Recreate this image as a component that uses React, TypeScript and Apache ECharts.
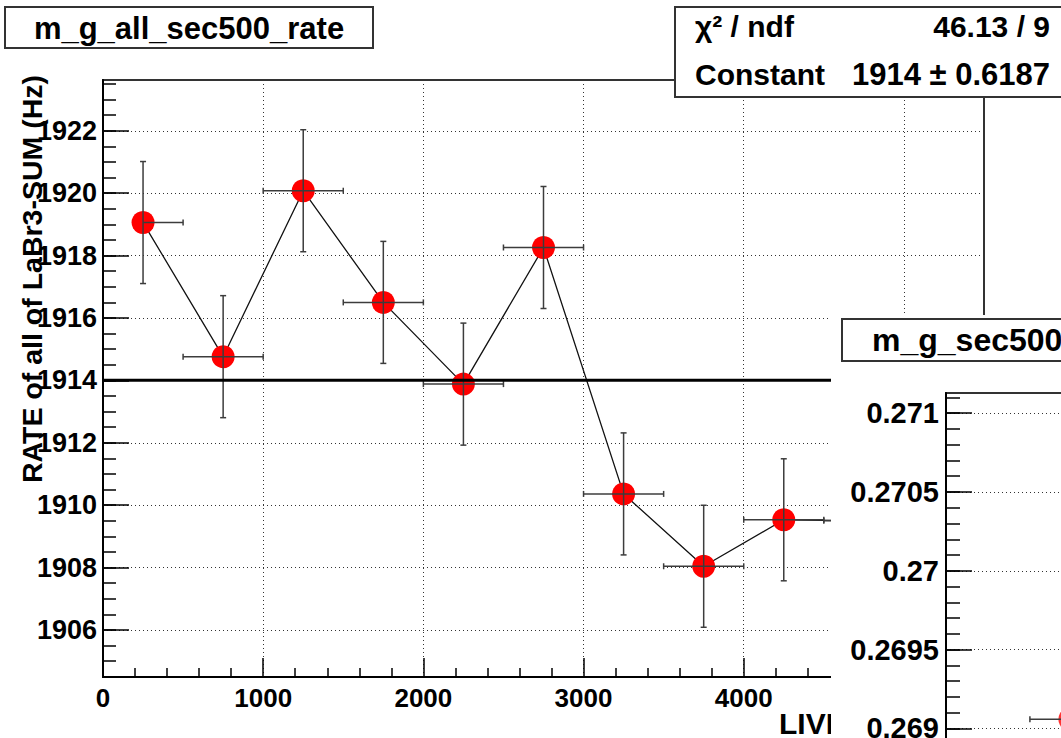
import React, { useEffect, useRef } from "react";
import * as echarts from "echarts";

const FONT = '"Liberation Sans", Arial, Helvetica, sans-serif';

// ---------- main pad data ----------
const TITLE = "m_g_all_sec500_rate";
const Y_TITLE = "RATE of all of LaBr3-SUM (Hz)";
const X_TITLE = "LIVE";
const LIVE_TIME = [250, 750, 1250, 1750, 2250, 2750, 3250, 3750, 4250, 4750];
const RATE = [1919.06, 1914.76, 1920.08, 1916.5, 1913.88, 1918.26, 1910.36, 1908.04, 1909.53, 1909.5];
const X_ERR = [250, 250, 250, 250, 250, 250, 250, 250, 250, 250];
const Y_ERR = [1.956, 1.956, 1.956, 1.956, 1.956, 1.956, 1.956, 1.956, 1.956, 1.956];
const FIT_CONSTANT = 1914;
const FIT_RANGE = [0, 5500];
const X_RANGE = [0, 5500];
const X_MAJOR_STEP = 1000;
const Y_RANGE = [1904.49, 1923.63];
const Y_MAJOR_TICKS = [1906, 1908, 1910, 1912, 1914, 1916, 1918, 1920, 1922];
const Y_MINOR_STEP = 0.5;

// ---------- stats box ----------
const STATS_LABELS = ["\u03c7\u00b2 / ndf", "Constant"];
const STATS_VALUES = ["46.13 / 9", "1914 \u00b1 0.6187"];

// ---------- second pad (partly visible) ----------
const PAD2_TITLE = "m_g_sec500";
const PAD2_X = [775];
const PAD2_Y = [0.269059];
const PAD2_X_ERR = [250];
const PAD2_Y_ERR = [0.00012];
const PAD2_X_RANGE = [0, 5500];
const PAD2_Y_RANGE = [0.2688, 0.271128];
const PAD2_Y_MAJOR_TICKS = [0.269, 0.2695, 0.27, 0.2705, 0.271];
const PAD2_Y_MINOR_STEP = 0.0001;

function ticksBetween(lo: number, hi: number, step: number): number[] {
  const out: number[] = [];
  const start = Math.ceil(lo / step - 1e-9);
  const end = Math.floor(hi / step + 1e-9);
  for (let i = start; i <= end; i++) out.push(Number((i * step).toFixed(6)));
  return out;
}

const MAIN_Y_MINOR = ticksBetween(Y_RANGE[0], Y_RANGE[1], Y_MINOR_STEP);
const PAD2_Y_MINOR = ticksBetween(PAD2_Y_RANGE[0], PAD2_Y_RANGE[1], PAD2_Y_MINOR_STEP);

function makeErrorRenderer(xMin: number) {
  return (_params: any, api: any) => {
    const x = api.value(0);
    const y = api.value(1);
    const ex = api.value(2);
    const ey = api.value(3);
    const c = api.coord([x, y]);
    const l = api.coord([x - ex, y]);
    const r = api.coord([x + ex, y]);
    const t = api.coord([x, y + ey]);
    const b = api.coord([x, y - ey]);
    const style = { stroke: "#3c3c3c", lineWidth: 1.5 };
    const cap = 3;
    const children: any[] = [
      { type: "line", shape: { x1: c[0], y1: t[1], x2: c[0], y2: b[1] }, style },
      { type: "line", shape: { x1: c[0] - cap, y1: t[1], x2: c[0] + cap, y2: t[1] }, style },
      { type: "line", shape: { x1: c[0] - cap, y1: b[1], x2: c[0] + cap, y2: b[1] }, style },
      { type: "line", shape: { x1: c[0], y1: c[1], x2: r[0], y2: c[1] }, style },
      { type: "line", shape: { x1: r[0], y1: c[1] - cap, x2: r[0], y2: c[1] + cap }, style },
    ];
    if (x - ex > xMin) {
      children.push({ type: "line", shape: { x1: l[0], y1: c[1], x2: c[0], y2: c[1] }, style });
      children.push({ type: "line", shape: { x1: l[0], y1: c[1] - cap, x2: l[0], y2: c[1] + cap }, style });
    }
    return { type: "group", children };
  };
}

const dotted = { type: [1, 3] as any, color: "#333", width: 1 };
const tickLine = { color: "#000", width: 1.5 };

export default function App() {
  const ref = useRef<HTMLDivElement>(null);

  useEffect(() => {
    if (!ref.current) return;
    const chart = echarts.init(ref.current, null, { renderer: "svg" });

    const mainPoints = LIVE_TIME.map((x, i) => [x, RATE[i]]);
    const mainErr = LIVE_TIME.map((x, i) => [x, RATE[i], X_ERR[i], Y_ERR[i]]);
    const pad2Points = PAD2_X.map((x, i) => [x, PAD2_Y[i]]);
    const pad2Err = PAD2_X.map((x, i) => [x, PAD2_Y[i], PAD2_X_ERR[i], PAD2_Y_ERR[i]]);

    const option: any = {
      animation: false,
      backgroundColor: "#ffffff",
      grid: [
        {
          left: 103, top: 80, width: 881, height: 597,
          show: true, borderColor: "#333", borderWidth: 2, backgroundColor: "transparent",
          containLabel: false, outerBoundsMode: "none", z: 0,
        },
        {
          left: 946, top: 393, width: 879, height: 367,
          show: true, borderColor: "#333", borderWidth: 2, backgroundColor: "#ffffff",
          containLabel: false, outerBoundsMode: "none", z: 60,
        },
      ],
      xAxis: [
        {
          type: "value", gridIndex: 0, min: X_RANGE[0], max: X_RANGE[1], interval: X_MAJOR_STEP,
          axisLine: { show: true, onZero: false, lineStyle: { color: "#000", width: 2 } },
          axisTick: { show: true, inside: true, length: 19, lineStyle: tickLine },
          minorTick: { show: true, splitNumber: 5, length: 9, lineStyle: tickLine },
          axisLabel: {
            show: true, margin: 8, fontSize: 26, fontWeight: "bold", color: "#000", fontFamily: FONT,
            formatter: (v: number) => String(v),
          },
          splitLine: { show: true, lineStyle: dotted },
          minorSplitLine: { show: false },
          z: 1,
        },
        {
          type: "value", gridIndex: 1, min: PAD2_X_RANGE[0], max: PAD2_X_RANGE[1], show: false,
          splitLine: { show: false }, z: 60,
        },
      ],
      yAxis: [
        {
          type: "value", gridIndex: 0, min: Y_RANGE[0], max: Y_RANGE[1], position: "left",
          axisLine: { show: true, onZero: false, lineStyle: { color: "#000", width: 2 } },
          axisTick: { show: true, inside: true, length: 26, customValues: Y_MAJOR_TICKS, lineStyle: tickLine },
          axisLabel: {
            show: true, customValues: Y_MAJOR_TICKS, margin: 6, fontSize: 27, fontWeight: "bold",
            color: "#000", fontFamily: FONT, formatter: (v: number) => String(v),
          },
          splitLine: { show: true, lineStyle: dotted },
          z: 1,
        },
        {
          type: "value", gridIndex: 0, min: Y_RANGE[0], max: Y_RANGE[1], position: "left",
          axisLine: { show: false },
          axisTick: { show: true, inside: true, length: 13, customValues: MAIN_Y_MINOR, lineStyle: tickLine },
          axisLabel: { show: false, customValues: MAIN_Y_MINOR },
          splitLine: { show: false },
          z: 1,
        },
        {
          type: "value", gridIndex: 1, min: PAD2_Y_RANGE[0], max: PAD2_Y_RANGE[1], position: "left",
          axisLine: { show: true, onZero: false, lineStyle: { color: "#000", width: 2 } },
          axisTick: { show: true, inside: true, length: 26, customValues: PAD2_Y_MAJOR_TICKS, lineStyle: tickLine },
          axisLabel: {
            show: true, customValues: PAD2_Y_MAJOR_TICKS, margin: 7, fontSize: 29, fontWeight: "bold",
            color: "#000", fontFamily: FONT, formatter: (v: number) => String(v),
          },
          splitLine: { show: true, lineStyle: dotted },
          z: 60,
        },
        {
          type: "value", gridIndex: 1, min: PAD2_Y_RANGE[0], max: PAD2_Y_RANGE[1], position: "left",
          axisLine: { show: false },
          axisTick: { show: true, inside: true, length: 14, customValues: PAD2_Y_MINOR, lineStyle: tickLine },
          axisLabel: { show: false, customValues: PAD2_Y_MINOR },
          splitLine: { show: false },
          z: 60,
        },
      ],
      series: [
        {
          type: "line", xAxisIndex: 0, yAxisIndex: 0, data: mainPoints,
          symbol: "circle", symbolSize: 23, showSymbol: true,
          itemStyle: { color: "#ff0000", borderWidth: 0 },
          lineStyle: { color: "#111", width: 1.3 },
          z: 3, silent: true,
        },
        {
          type: "custom", xAxisIndex: 0, yAxisIndex: 0, data: mainErr,
          renderItem: makeErrorRenderer(X_RANGE[0]),
          encode: { x: 0, y: 1 }, z: 4, silent: true,
        },
        {
          type: "line", xAxisIndex: 0, yAxisIndex: 0,
          data: [[FIT_RANGE[0], FIT_CONSTANT], [FIT_RANGE[1], FIT_CONSTANT]],
          symbol: "none", lineStyle: { color: "#000", width: 3 }, z: 5, silent: true,
        },
        {
          type: "scatter", xAxisIndex: 1, yAxisIndex: 2, data: pad2Points,
          symbol: "circle", symbolSize: 23, itemStyle: { color: "#ff0000" }, z: 62, silent: true,
        },
        {
          type: "custom", xAxisIndex: 1, yAxisIndex: 2, data: pad2Err,
          renderItem: makeErrorRenderer(PAD2_X_RANGE[0]),
          encode: { x: 0, y: 1 }, z: 63, silent: true,
        },
      ],
      graphic: [
        // main title box
        {
          type: "rect", z: 20, shape: { x: 5, y: 7, width: 368, height: 41 },
          style: { fill: "#fff", stroke: "#333", lineWidth: 2 },
        },
        {
          type: "text", z: 21, x: 189, y: 28,
          style: {
            text: TITLE, fill: "#000", fontSize: 31, fontWeight: "bold", fontFamily: FONT,
            textAlign: "center", textVerticalAlign: "middle", align: "center", verticalAlign: "middle",
          },
        },
        // y axis title
        {
          type: "text", z: 21, x: 32, y: 75, rotation: Math.PI / 2,
          style: {
            text: Y_TITLE, fill: "#000", fontSize: 28.5, fontWeight: "bold", fontFamily: FONT,
            textAlign: "right", textVerticalAlign: "middle", align: "right", verticalAlign: "middle",
          },
        },
        // x axis title (partly hidden by the second pad)
        {
          type: "text", z: 21, x: 779, y: 723,
          style: {
            text: X_TITLE, fill: "#000", fontSize: 30, fontWeight: "bold", fontFamily: FONT,
            textAlign: "left", textVerticalAlign: "middle", align: "left", verticalAlign: "middle",
          },
        },
        // stats box
        {
          type: "rect", z: 50, shape: { x: 675, y: 7, width: 420, height: 90 },
          style: { fill: "#fff", stroke: "#333", lineWidth: 2 },
        },
        {
          type: "text", z: 51, x: 695, y: 26,
          style: {
            text: STATS_LABELS[0], fill: "#000", fontSize: 30, fontWeight: "bold", fontFamily: FONT,
            textAlign: "left", textVerticalAlign: "middle", align: "left", verticalAlign: "middle",
          },
        },
        {
          type: "text", z: 51, x: 1050, y: 26,
          style: {
            text: STATS_VALUES[0], fill: "#000", fontSize: 30, fontWeight: "bold", fontFamily: FONT,
            textAlign: "right", textVerticalAlign: "middle", align: "right", verticalAlign: "middle",
          },
        },
        {
          type: "text", z: 51, x: 695, y: 74,
          style: {
            text: STATS_LABELS[1], fill: "#000", fontSize: 30, fontWeight: "bold", fontFamily: FONT,
            textAlign: "left", textVerticalAlign: "middle", align: "left", verticalAlign: "middle",
          },
        },
        {
          type: "text", z: 51, x: 1050, y: 74,
          style: {
            text: STATS_VALUES[1], fill: "#000", fontSize: 31, fontWeight: "bold", fontFamily: FONT,
            textAlign: "right", textVerticalAlign: "middle", align: "right", verticalAlign: "middle",
          },
        },
        // second pad background
        {
          type: "rect", z: 55, shape: { x: 831, y: 315, width: 240, height: 430 },
          style: { fill: "#fff", stroke: "none" },
        },
        // second pad title box
        {
          type: "rect", z: 70, shape: { x: 842, y: 319, width: 260, height: 42 },
          style: { fill: "#fff", stroke: "#333", lineWidth: 2 },
        },
        {
          type: "text", z: 71, x: 872, y: 340,
          style: {
            text: PAD2_TITLE, fill: "#000", fontSize: 32, fontWeight: "bold", fontFamily: FONT,
            textAlign: "left", textVerticalAlign: "middle", align: "left", verticalAlign: "middle",
          },
        },
      ],
    };

    chart.setOption(option);
    return () => {
      chart.dispose();
    };
  }, []);

  return (
    <div
      ref={ref}
      style={{ position: "fixed", left: 0, top: 0, width: 1061, height: 738, background: "#fff" }}
    />
  );
}
